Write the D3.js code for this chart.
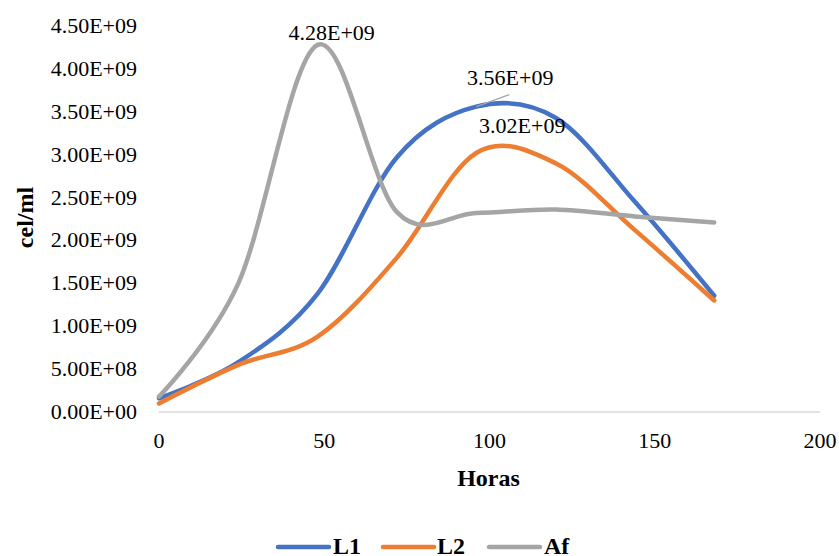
<!DOCTYPE html>
<html>
<head>
<meta charset="utf-8">
<script src="https://cdn.jsdelivr.net/npm/d3@7"></script>
<style>
  html, body { margin: 0; padding: 0; background: #fff; }
  svg { display: block; font-family: "Liberation Serif", "Times New Roman", serif; }
</style>
</head>
<body>
<svg id="chart" width="839" height="556"></svg>
<script>
// Sampling times (hours)
const hours = [0, 24, 48, 72, 96, 120, 144, 168];

// Cell density per series (cel/ml)
const seriesL1 = [0.16e9, 0.58e9, 1.38e9, 2.97e9, 3.56e9, 3.43e9, 2.45e9, 1.355e9];
const seriesL2 = [0.10e9, 0.55e9, 0.88e9, 1.80e9, 3.02e9, 2.90e9, 2.12e9, 1.30e9];
const seriesAf = [0.18e9, 1.50e9, 4.28e9, 2.33e9, 2.32e9, 2.36e9, 2.28e9, 2.21e9];

const seriesNames = ["L1", "L2", "Af"];
const seriesColors = ["#4472C4", "#ED7D31", "#A5A5A5"];

// Axis ticks
const xTicks = [0, 50, 100, 150, 200];
const yTicks = [0, 0.5e9, 1e9, 1.5e9, 2e9, 2.5e9, 3e9, 3.5e9, 4e9, 4.5e9];
const yTickLabels = ["0.00E+00", "5.00E+08", "1.00E+09", "1.50E+09", "2.00E+09",
                     "2.50E+09", "3.00E+09", "3.50E+09", "4.00E+09", "4.50E+09"];

// Labelled points: [series index, hour index, text]
const pointLabels = [
  [2, 2, "4.28E+09"],
  [0, 4, "3.56E+09"],
  [1, 4, "3.02E+09"]
];

const svg = d3.select("#chart");
const x = d3.scaleLinear().domain([0, 200]).range([159, 820]);
const y = d3.scaleLinear().domain([0, 4.5e9]).range([412, 26]);

const FS = 22;      // tick and data label size
const FS_T = 24;    // titles and legend

// Horizontal axis line
svg.append("line")
  .attr("x1", x(0)).attr("x2", x(200))
  .attr("y1", y(0)).attr("y2", y(0))
  .attr("stroke", "#D9D9D9").attr("stroke-width", 1.3);

// Y tick labels
svg.append("g").selectAll("text")
  .data(yTicks)
  .join("text")
  .attr("x", 137)
  .attr("y", d => y(d) + 7)
  .attr("text-anchor", "end")
  .attr("font-size", FS)
  .attr("fill", "#000")
  .text((d, i) => yTickLabels[i]);

// X tick labels
svg.append("g").selectAll("text")
  .data(xTicks)
  .join("text")
  .attr("x", d => x(d))
  .attr("y", 448)
  .attr("text-anchor", "middle")
  .attr("font-size", FS)
  .attr("fill", "#000")
  .text(d => d);

// Axis titles
svg.append("text")
  .attr("x", 488.5).attr("y", 486)
  .attr("text-anchor", "middle")
  .attr("font-size", FS_T).attr("font-weight", "bold")
  .text("Horas");

svg.append("text")
  .attr("transform", "translate(33,217.5) rotate(-90)")
  .attr("text-anchor", "middle")
  .attr("font-size", FS_T).attr("font-weight", "bold")
  .text("cel/ml");

// Smoothed series lines
const allSeries = [seriesL1, seriesL2, seriesAf];
const line = d3.line()
  .x((d, i) => x(hours[i]))
  .y(d => y(d))
  .curve(d3.curveCardinal.tension(0));

svg.append("g").selectAll("path")
  .data(allSeries)
  .join("path")
  .attr("d", d => line(d))
  .attr("fill", "none")
  .attr("stroke", (d, i) => seriesColors[i])
  .attr("stroke-width", 4.5)
  .attr("stroke-linecap", "round")
  .attr("stroke-linejoin", "round");

// Data labels
const labelOffsets = [[14, -5], [34, -21.5], [46, -20]];
pointLabels.forEach(([s, h, txt], k) => {
  const px = x(hours[h]), py = y(allSeries[s][h]);
  const [dx, dy] = labelOffsets[k];
  if (k === 1) {
    // leader line from the point towards its label
    svg.append("line")
      .attr("x1", px).attr("y1", py)
      .attr("x2", px + 33).attr("y2", py - 12)
      .attr("stroke", "#A5A5A5").attr("stroke-width", 1.3);
  }
  svg.append("text")
    .attr("x", px + dx).attr("y", py + dy)
    .attr("text-anchor", "middle")
    .attr("font-size", FS)
    .attr("fill", "#000")
    .text(txt);
});

// Legend
const legendItems = [
  { name: seriesNames[0], color: seriesColors[0], x1: 278, x2: 329, tx: 333 },
  { name: seriesNames[1], color: seriesColors[1], x1: 383, x2: 434, tx: 437 },
  { name: seriesNames[2], color: seriesColors[2], x1: 489, x2: 540, tx: 544 }
];
const lg = svg.append("g");
legendItems.forEach(it => {
  lg.append("line")
    .attr("x1", it.x1).attr("x2", it.x2)
    .attr("y1", 547).attr("y2", 547)
    .attr("stroke", it.color).attr("stroke-width", 4.5)
    .attr("stroke-linecap", "round");
  lg.append("text")
    .attr("x", it.tx).attr("y", 554)
    .attr("font-size", FS_T).attr("font-weight", "bold")
    .text(it.name);
});
</script>
</body>
</html>
